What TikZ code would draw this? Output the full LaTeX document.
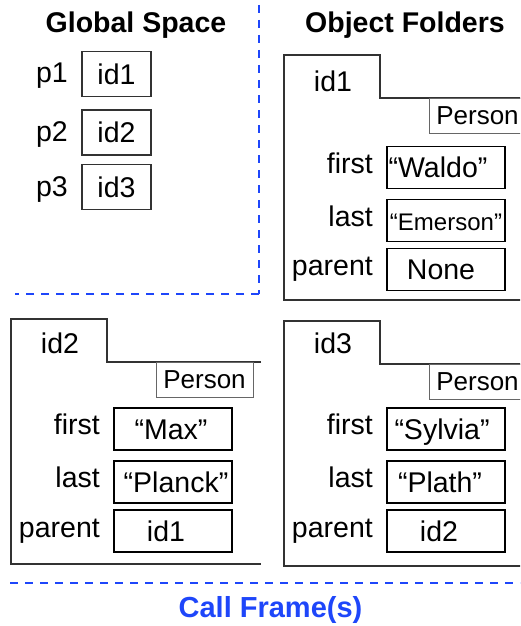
\documentclass[tikz,border=0pt]{standalone}
\usepackage{fontspec}
\setmainfont{Liberation Sans}
\definecolor{frameblue}{RGB}{30,70,250}
\definecolor{folderline}{RGB}{50,50,50}
\tikzset{
  body/.style={font=\fontsize{28.5}{34}\selectfont, inner sep=0pt},
  titletext/.style={font=\fontsize{28.5}{34}\selectfont\bfseries, inner sep=0pt, anchor=base},
  valbox/.style={body, draw=black, line width=1.4pt, minimum width=118pt, minimum height=42pt, text height=20.5pt, text depth=0pt},
  refbox/.style={body, draw=folderline, line width=1.2pt, minimum width=69pt, minimum height=45pt, text height=20.5pt, text depth=0pt},
  typebox/.style={font=\fontsize{26}{30}\selectfont, inner sep=0pt, draw=black!60, line width=1pt, minimum width=97pt, minimum height=35pt, text height=17pt, text depth=0pt},
  fieldlabel/.style={body, anchor=base east},
  folderline/.style={draw=folderline, line width=1.2pt},
  divider/.style={draw=frameblue, line width=1.5pt, dash pattern=on 8pt off 7pt},
}
% #1 prefix, #2 left, #3 top, #4 id, #5 first, #6 last, #7 parent, #8 tab baseline, #9 first row centre
\newcommand\objfolder[9]{%
  \begin{scope}[shift={(#2,#3)}]
    \draw[folderline] (250,43) -- (96,43) -- (96,0) -- (0,0) -- (0,245) -- (250,245);
    \node[typebox] (#1type) at (193.5,60.5) {Person};
    \node[body, anchor=base] (#1tab) at (49,#8) {#4};
    \node[valbox] (#1first) at (162,#9) {#5};
    \node[valbox] (#1last) at (162,#9+53) {#6};
    \node[valbox] (#1parent) at (162,#9+102) {#7};
    \node[fieldlabel] (#1firstlbl) at (89,#9+5.5) {first};
    \node[fieldlabel] (#1lastlbl) at (89,#9+58.5) {last};
    \node[fieldlabel] (#1parentlbl) at (89,#9+108) {parent};
  \end{scope}}
\begin{document}
\begin{tikzpicture}[x=1pt,y=-1pt]
  \useasboundingbox (0,0) rectangle (520,626);
  \begin{scope}
    \clip (0,0) rectangle (520,626);
    % titles
    \node[titletext] (globaltitle) at (136,33) {Global Space};
    \node[titletext] (objtitle) at (405,33) {Object Folders};
    \node[titletext, text=frameblue, font=\fontsize{29}{34}\selectfont\bfseries] (calltitle) at (270.5,617) {Call Frame(s)};
    % dividers
    \coordinate (vtop) at (259,5);
    \coordinate (corner) at (259,294);
    \coordinate (hleft) at (15,294);
    \draw[divider] (vtop) -- (corner);
    \draw[divider] (corner) -- (hleft);
    \coordinate (bleft) at (10,583);
    \coordinate (bright) at (520,583);
    \draw[divider] (bleft) -- (bright);
    % global space
    \node[refbox] (g1) at (116.5,74) {id1};
    \node[refbox] (g2) at (116.5,132.5) {id2};
    \node[refbox] (g3) at (116.5,187) {id3};
    \node[fieldlabel] (p1) at (68,82.5) {p1};
    \node[fieldlabel] (p2) at (68,141.5) {p2};
    \node[fieldlabel] (p3) at (68,196) {p3};
    % object folders
    \objfolder{fa}{284}{55}{id1}{“Waldo”\hspace*{16pt}}{{\fontsize{24}{28}\selectfont “Emerson”}}{None\hspace*{10pt}}{37}{112.5}
    \objfolder{fb}{11}{319}{id2}{“Max”\hspace*{4pt}}{\hspace*{6pt}“Planck”}{id1\hspace*{14pt}}{34}{110}
    \objfolder{fc}{284}{321}{id3}{“Sylvia”\hspace*{8pt}}{“Plath”\hspace*{12pt}}{id2\hspace*{14pt}}{32}{108}
  \end{scope}
\end{tikzpicture}
\end{document}
